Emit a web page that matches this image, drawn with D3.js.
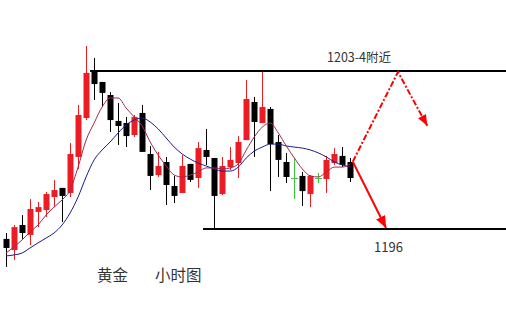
<!DOCTYPE html>
<html>
<head>
<meta charset="utf-8">
<script src="https://cdn.jsdelivr.net/npm/d3@7"></script>
<style>
  html, body { margin: 0; padding: 0; background: #fff; }
  svg { display: block; }
</style>
</head>
<body>
<svg id="chart" width="506" height="315"></svg>
<script>
// Gold, hourly candles (oldest first)
const opens  = [1195.53,1195.00,1196.19,1195.72,1196.81,1196.90,1197.52,1197.95,1197.71,1199.42,
                1201.27,1203.50,1202.98,1202.36,1201.13,1201.03,1200.46,1201.51,1199.56,1198.56,
                1199.18,1198.04,1197.71,1199.09,1198.42,1199.75,1199.37,1197.66,1198.94,1199.13,
                1200.22,1202.03,1201.03,1201.70,1200.13,1199.18,1198.42,1198.52,1197.66,1198.42,
                1198.37,1199.13,1199.47,1199.18];
const highs  = [1195.81,1196.19,1196.66,1197.42,1197.28,1197.76,1198.33,1197.95,1200.08,1201.89,
                1204.69,1204.12,1202.98,1202.50,1201.98,1201.32,1201.41,1201.89,1199.94,1199.66,
                1199.42,1198.52,1199.51,1199.09,1200.13,1200.75,1199.37,1199.42,1199.89,1200.41,
                1203.07,1202.27,1203.45,1201.79,1200.46,1199.61,1199.37,1198.71,1198.56,1198.66,
                1199.47,1199.84,1199.89,1199.37];
const lows   = [1194.20,1194.53,1195.53,1195.24,1196.09,1196.57,1197.04,1196.33,1197.52,1198.85,
                1201.17,1202.12,1201.79,1200.60,1199.99,1199.89,1200.37,1199.66,1197.85,1198.47,
                1197.14,1197.23,1197.71,1198.23,1197.95,1199.04,1196.05,1197.61,1198.80,1198.42,
                1200.22,1199.42,1201.03,1197.80,1198.47,1198.18,1197.42,1197.09,1197.04,1198.18,
                1197.71,1199.04,1198.94,1198.23];
const closes = [1195.10,1196.09,1195.81,1196.95,1197.04,1197.66,1197.85,1197.57,1199.56,1201.41,
                1203.41,1202.88,1202.46,1201.17,1200.89,1200.41,1201.32,1199.66,1198.52,1198.99,
                1198.09,1197.57,1198.99,1198.33,1199.84,1199.42,1197.57,1198.99,1199.28,1200.13,
                1202.17,1201.08,1201.79,1200.03,1199.28,1198.47,1198.42,1197.80,1198.52,1198.42,
                1199.28,1199.56,1199.04,1198.42];

// Short and long moving averages
const maShort = [1194.86,1195.15,1195.48,1195.86,1196.19,1196.66,1197.04,1197.38,1197.85,1198.94,
                 1200.22,1201.03,1201.79,1202.22,1202.22,1201.74,1201.32,1200.89,1200.13,1199.51,
                 1198.99,1198.56,1198.47,1198.56,1198.71,1198.90,1198.90,1198.85,1198.90,1199.09,
                 1199.75,1200.37,1200.84,1201.03,1200.56,1199.94,1199.37,1198.85,1198.52,1198.47,
                 1198.71,1198.94,1198.94,1199.09];
const maLong  = [1194.72,1194.77,1194.86,1195.10,1195.34,1195.57,1195.81,1196.19,1196.76,1197.52,
                 1198.47,1199.28,1199.75,1200.13,1200.56,1200.94,1201.17,1201.27,1201.08,1200.75,
                 1200.32,1199.89,1199.56,1199.32,1199.13,1198.99,1198.85,1198.75,1198.75,1198.94,
                 1199.37,1199.70,1199.89,1200.03,1200.03,1199.94,1199.89,1199.84,1199.75,1199.61,
                 1199.42,1199.18,1199.04,1198.94];

// Key levels and their labels
const resistance = 1203.5, support = 1196;
const resistanceLabel = "1203-4附近";
const supportLabel = "1196";
const resistanceFrom = 10.5, supportFrom = 24.6;
const titleParts = ["黄金", "小时图"];

// Projected paths: [bar index, price]
const pathUp   = [[43.3, 1199.2], [48.94, 1203.45], [52.6, 1200.9]];
const pathDown = [[43.3, 1199.2], [47.45, 1196.05]];

const W = 506, H = 315;
const svg = d3.select("#chart");

const x = d3.scaleLinear().domain([0, opens.length - 1]).range([6, 350.4]);
const y = d3.scaleLinear().domain([support, resistance]).range([229, 71]);

const RED = "#ec1c24", BLACK = "#000", GREEN = "#3dc43d";
const bars = d3.range(opens.length).map(i => ({
  i, o: opens[i], h: highs[i], l: lows[i], c: closes[i]
}));
const colorOf = d => d.c > d.o ? RED : (d.c < d.o ? BLACK : GREEN);
const px = i => Math.round(x(i)) + 0.5;

// Key level lines
svg.append("line")
  .attr("x1", x(resistanceFrom)).attr("x2", W)
  .attr("y1", y(resistance)).attr("y2", y(resistance))
  .attr("stroke", "#000").attr("stroke-width", 2);
svg.append("line")
  .attr("x1", x(supportFrom)).attr("x2", W)
  .attr("y1", y(support)).attr("y2", y(support))
  .attr("stroke", "#000").attr("stroke-width", 2);

// Candles
const g = svg.append("g");
g.selectAll("line.wick").data(bars).join("line")
  .attr("class", "wick")
  .attr("x1", d => px(d.i)).attr("x2", d => px(d.i))
  .attr("y1", d => y(d.h)).attr("y2", d => y(d.l))
  .attr("stroke", colorOf).attr("stroke-width", 1);

const bodyW = 6;
g.selectAll("rect.body").data(bars.filter(d => d.c !== d.o)).join("rect")
  .attr("class", "body")
  .attr("x", d => Math.round(x(d.i)) - bodyW / 2 + 0.5)
  .attr("width", bodyW)
  .attr("y", d => y(Math.max(d.o, d.c)))
  .attr("height", d => Math.max(1, y(Math.min(d.o, d.c)) - y(Math.max(d.o, d.c))))
  .attr("fill", colorOf);

g.selectAll("line.doji").data(bars.filter(d => d.c === d.o)).join("line")
  .attr("class", "doji")
  .attr("x1", d => Math.round(x(d.i)) - 3).attr("x2", d => Math.round(x(d.i)) + 4)
  .attr("y1", d => Math.round(y(d.o)) + 0.5).attr("y2", d => Math.round(y(d.o)) + 0.5)
  .attr("stroke", GREEN).attr("stroke-width", 1);

// Moving averages
const lineGen = d3.line().x((d, i) => x(i)).y(d => y(d)).curve(d3.curveMonotoneX);
svg.append("path").datum(maLong).attr("d", lineGen)
  .attr("fill", "none").attr("stroke", "#1c1c8a").attr("stroke-width", 1);
svg.append("path").datum(maShort).attr("d", lineGen)
  .attr("fill", "none").attr("stroke", "#a3284f").attr("stroke-width", 1);

// Arrowheads
const defs = svg.append("defs");
function marker(id, w, h) {
  defs.append("marker").attr("id", id)
    .attr("markerUnits", "userSpaceOnUse")
    .attr("markerWidth", w).attr("markerHeight", h)
    .attr("refX", w).attr("refY", h / 2)
    .attr("orient", "auto")
    .append("path").attr("d", `M0,0L${w},${h / 2}L0,${h}Z`).attr("fill", "#f00");
}
marker("headBig", 12, 10);
marker("headSmall", 11, 9);

const annLine = d3.line().x(d => x(d[0])).y(d => y(d[1]));
svg.append("path").datum(pathUp).attr("d", annLine)
  .attr("fill", "none").attr("stroke", "#f00").attr("stroke-width", 2)
  .attr("stroke-dasharray", "6,2,2,2")
  .attr("marker-end", "url(#headSmall)");
svg.append("path").datum(pathDown).attr("d", annLine)
  .attr("fill", "none").attr("stroke", "#f00").attr("stroke-width", 2)
  .attr("marker-end", "url(#headBig)");

// Labels
const font = "'Noto Sans CJK SC', 'Noto Sans', sans-serif";
svg.append("text")
  .attr("x", 327).attr("y", y(resistance) - 9)
  .attr("font-family", font).attr("font-size", 12.5).attr("fill", "#333")
  .text(resistanceLabel);
svg.append("text")
  .attr("x", 374).attr("y", y(support) + 23)
  .attr("font-family", font).attr("font-size", 13).attr("fill", "#333")
  .text(supportLabel);
svg.append("text")
  .attr("x", 97).attr("y", 281)
  .attr("font-family", font).attr("font-size", 15.5).attr("fill", "#333")
  .text(titleParts[0]);
svg.append("text")
  .attr("x", 155).attr("y", 281)
  .attr("font-family", font).attr("font-size", 15.5).attr("fill", "#333")
  .text(titleParts[1]);
</script>
</body>
</html>
